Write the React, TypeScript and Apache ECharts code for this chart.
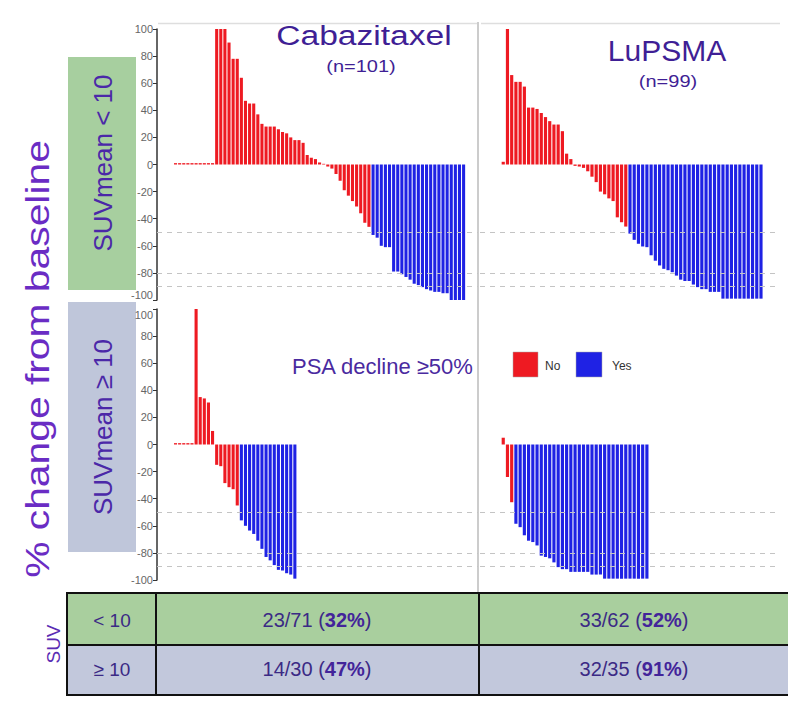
import React, { useEffect, useRef } from "react";
import * as echarts from "echarts";

// ---------- data ----------
// Cabazitaxel, SUVmean < 10 (n=71): non-responders (red) then responders (blue)
const cabLowNo = [
  1, 1, 1, 1, 1, 1, 1, 1, 1, 1,
  100, 100, 100, 90, 78, 78, 64, 47, 45, 45, 37, 30, 28, 28, 28, 26, 24, 23, 20, 18, 18, 16, 7, 5, 4, 1.5, 0.5,
  -1.5, -3, -7, -12, -19, -23, -27, -31, -36, -43, -46,
];
const cabLowYes = [
  -52, -54, -60, -61, -61, -79, -79, -81, -83, -85, -88, -89, -90.5, -92, -93, -94, -94, -95, -95, -100, -100, -100, -100,
];
// Cabazitaxel, SUVmean >= 10 (n=30)
const cabHighNo = [1, 1, 1, 1, 1, 100, 35, 34, 31, 10, -15, -16, -28.5, -31.5, -33, -45];
const cabHighYes = [-56, -60, -63.5, -66, -71, -77, -83, -85.5, -89, -92.5, -93, -95, -96, -99];
// LuPSMA, SUVmean < 10 (n=62)
const luLowNo = [
  2, 100, 66, 61, 61, 57.5, 42, 42, 41, 38, 35, 32, 29.5, 29.5, 24.6, 8, 4,
  -1, -1.5, -2.5, -5, -9, -13, -20, -22, -25, -27, -39, -42.6, -45.8,
];
const luLowYes = [
  -51, -55.6, -58.5, -60.5, -61, -67, -71, -74.5, -77, -78, -79.5, -82, -85, -86, -86, -88.6, -90.5, -92, -92, -94, -94, -94,
  -99, -99, -99, -99, -99, -99, -99, -99, -99, -99,
];
// LuPSMA, SUVmean >= 10 (n=35)
const luHighNo = [5, -24, -42.6];
const luHighYes = [
  -58.5, -61, -67, -71, -72, -74.5, -82, -83, -84, -87, -90.5, -92, -92, -94, -94, -94, -94, -94, -96, -96, -96,
  -99, -99, -99, -99, -99, -99, -99, -99, -99, -99, -99,
];

const refLines = [-50, -80, -90];
const yTicks = { min: -100, max: 100, interval: 20 };

const colTitles = ["Cabazitaxel", "LuPSMA"];
const colCounts = ["(n=101)", "(n=99)"];
const rowLabels = ["SUVmean < 10", "SUVmean \u2265 10"];
const tableRowLabels = ["< 10", "\u2265 10"];
const tableCells = [
  ["23/71", "32%", "33/62", "52%"],
  ["14/30", "47%", "32/35", "91%"],
];
const legendTitle = "PSA decline \u226550%";
const legendNames = ["No", "Yes"];

const RED = "#ee1a22";
const BLUE = "#1f22e4";
const PURPLE = "#3f1f95";
const FONT = "'Liberation Sans', Arial, sans-serif";

function buildData(pad: number, no: number[], yes: number[]) {
  const out: any[] = [];
  for (let i = 0; i < pad; i++) out.push("-");
  no.forEach((v) => out.push({ value: v, itemStyle: { color: RED } }));
  yes.forEach((v) => out.push({ value: v, itemStyle: { color: BLUE } }));
  return out;
}

export default function App() {
  const ref = useRef<HTMLDivElement>(null);

  useEffect(() => {
    if (!ref.current) return;
    const chart = echarts.init(ref.current, null, { renderer: "svg" });

    const LEFT_N = 78;
    const RIGHT_N = 71;
    const leftCats = Array.from({ length: LEFT_N }, (_, i) => String(i));
    const rightCats = Array.from({ length: RIGHT_N }, (_, i) => String(i));

    const grids = [
      { left: 157, top: 29, width: 321, height: 271 },
      { left: 157, top: 309, width: 321, height: 271 },
      { left: 480, top: 29, width: 300, height: 271 },
      { left: 480, top: 309, width: 300, height: 271 },
    ];

    const xAxes = grids.map((_, i) => ({
      type: "category",
      gridIndex: i,
      data: i < 2 ? leftCats : rightCats,
      show: false,
    }));

    const yAxes = grids.map((_, i) => ({
      type: "value",
      gridIndex: i,
      min: yTicks.min,
      max: yTicks.max,
      interval: yTicks.interval,
      show: i < 2,
      axisLine: { show: true, lineStyle: { color: "#333", width: 1.5 } },
      axisTick: { show: true, length: 4, lineStyle: { color: "#333" } },
      axisLabel: {
        fontSize: 11,
        color: "#666",
        margin: 4,
        fontFamily: FONT,
        ...(i === 0 ? { verticalAlignMinLabel: "bottom" } : {}),
        ...(i === 1 ? { verticalAlignMaxLabel: "top" } : {}),
      },
      splitLine: { show: false },
    }));

    const panels = [
      buildData(4, cabLowNo, cabLowYes),
      buildData(4, cabHighNo, cabHighYes),
      buildData(5, luLowNo, luLowYes),
      buildData(5, luHighNo, luHighYes),
    ];

    const series = panels.map((data, i) => ({
      type: "bar",
      xAxisIndex: i,
      yAxisIndex: i,
      data,
      barCategoryGap: "25%",
      silent: true,
      markLine: {
        silent: true,
        symbol: ["none", "none"],
        label: { show: false },
        lineStyle: { type: [5, 5], color: "#c4c4c4", width: 1 },
        data: refLines.map((v) => ({ yAxis: v })),
      },
    }));

    const txt = (
      text: string,
      x: number,
      y: number,
      fontSize: number,
      fill: string,
      extra: any = {},
      styleExtra: any = {}
    ) => ({
      type: "text",
      x,
      y,
      silent: true,
      ...extra,
      style: {
        text,
        fontSize,
        fontFamily: FONT,
        fill,
        align: "center",
        verticalAlign: "middle",
        ...styleExtra,
      },
    });

    const cellText = (a: string, b: string, x: number, y: number) => ({
      type: "text",
      x,
      y,
      silent: true,
      style: {
        text: `${a} ({b|${b}})`,
        fontSize: 20,
        fontFamily: FONT,
        fill: "#3b2a85",
        align: "center",
        verticalAlign: "middle",
        rich: {
          b: { fontSize: 20, fontWeight: "bold", fill: "#43249a", fontFamily: FONT },
        },
      },
    });

    const graphic: any[] = [
      // panel frames
      { type: "line", silent: true, shape: { x1: 158, y1: 23.5, x2: 477, y2: 23.5 }, style: { stroke: "#dedede", lineWidth: 1.5 } },
      { type: "line", silent: true, shape: { x1: 481, y1: 23.5, x2: 780, y2: 23.5 }, style: { stroke: "#dedede", lineWidth: 1.5 } },
      { type: "line", silent: true, shape: { x1: 478, y1: 22, x2: 478, y2: 593 }, style: { stroke: "#999", lineWidth: 1 } },
      // row label boxes
      { type: "rect", silent: true, shape: { x: 68, y: 57, width: 68, height: 233 }, style: { fill: "#a7cf9f" } },
      { type: "rect", silent: true, shape: { x: 68, y: 302, width: 68, height: 250 }, style: { fill: "#bfc6da" } },
      txt(rowLabels[0], 103, 163, 26, "#4b28a8", { rotation: Math.PI / 2 }),
      txt(rowLabels[1], 103, 427, 26, "#4b28a8", { rotation: Math.PI / 2 }),
      txt("% change from baseline", 37, 359, 34, "#6a2cc4", { rotation: Math.PI / 2, scaleX: 1.2 }),
      // column titles
      txt(colTitles[0], 364, 35, 28, PURPLE, { scaleX: 1.2 }),
      txt(colCounts[0], 361, 67, 16, PURPLE, { scaleX: 1.25 }),
      txt(colTitles[1], 667, 50, 30, PURPLE),
      txt(colCounts[1], 668, 82, 16, PURPLE, { scaleX: 1.25 }),
      // legend
      txt(legendTitle, 292, 366, 22, "#4a2a9f", {}, { align: "left" }),
      { type: "rect", silent: true, shape: { x: 513, y: 352, width: 25, height: 25 }, style: { fill: RED, stroke: "#aaa", lineWidth: 0.5 } },
      txt(legendNames[0], 545, 366, 12, "#333", {}, { align: "left" }),
      { type: "rect", silent: true, shape: { x: 576, y: 352, width: 26, height: 25 }, style: { fill: BLUE, stroke: "#aaa", lineWidth: 0.5 } },
      txt(legendNames[1], 612, 366, 12, "#333", {}, { align: "left" }),
      // table
      { type: "rect", silent: true, shape: { x: 67, y: 593, width: 740, height: 52 }, style: { fill: "#a9cf9e", stroke: "#111", lineWidth: 2 } },
      { type: "rect", silent: true, shape: { x: 67, y: 645, width: 740, height: 50 }, style: { fill: "#c2c8dc", stroke: "#111", lineWidth: 2 } },
      { type: "line", silent: true, shape: { x1: 156, y1: 593, x2: 156, y2: 695 }, style: { stroke: "#111", lineWidth: 2 } },
      { type: "line", silent: true, shape: { x1: 479, y1: 593, x2: 479, y2: 695 }, style: { stroke: "#111", lineWidth: 2 } },
      txt("SUV", 53, 644, 19, "#5a2cb4", { rotation: Math.PI / 2 }),
      txt(tableRowLabels[0], 112, 620, 19, "#3b2a85"),
      txt(tableRowLabels[1], 112, 669, 19, "#3b2a85"),
      cellText(tableCells[0][0], tableCells[0][1], 317, 620),
      cellText(tableCells[0][2], tableCells[0][3], 634, 620),
      cellText(tableCells[1][0], tableCells[1][1], 317, 669),
      cellText(tableCells[1][2], tableCells[1][3], 634, 669),
    ];

    chart.setOption({
      animation: false,
      backgroundColor: "#ffffff",
      grid: grids,
      xAxis: xAxes,
      yAxis: yAxes,
      series,
      graphic,
    });

    return () => chart.dispose();
  }, []);

  return (
    <div
      ref={ref}
      style={{ position: "fixed", left: 0, top: 0, width: 788, height: 706, background: "#fff" }}
    />
  );
}
